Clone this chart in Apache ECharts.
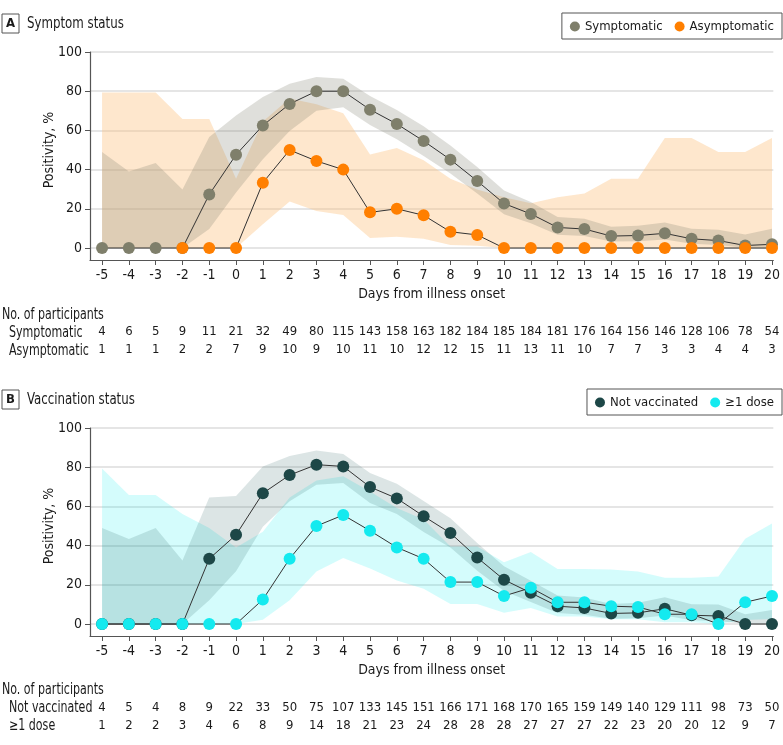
<!DOCTYPE html>
<html>
<head>
<meta charset="utf-8">
<script src="https://cdn.jsdelivr.net/npm/echarts@6/dist/echarts.min.js"></script>
<style>
  html, body { margin: 0; padding: 0; background: #fff; }
  #chart { width: 783px; height: 745px; }
</style>
</head>
<body>
<div id="chart"></div>
<script>
// days from illness onset
var days = [-5, -4, -3, -2, -1, 0, 1, 2, 3, 4, 5, 6, 7, 8, 9, 10, 11, 12, 13, 14, 15, 16, 17, 18, 19, 20];
var yTicks = [0, 20, 40, 60, 80, 100];

// A: symptom status (positivity, %)
var symptomatic     = [0, 0, 0, 0, 27.3, 47.6, 62.5, 73.5, 80, 80, 70.6, 63.3, 54.6, 45.1, 34.2, 22.7, 17.4, 10.5, 9.7, 6.1, 6.4, 7.5, 4.7, 3.8, 1.3, 1.9];
var symptomaticLow  = [0, 0, 0, 0, 9.7, 28.3, 45.3, 59.7, 70.0, 71.8, 62.7, 55.5, 46.9, 38.0, 27.8, 17.3, 12.6, 6.8, 6.1, 3.3, 3.5, 4.3, 2.2, 1.5, 0.2, 0.3];
var symptomaticHigh = [49.0, 39.0, 43.4, 29.9, 56.6, 67.6, 77.1, 83.8, 87.3, 86.3, 77.5, 70.4, 62.1, 52.3, 41.4, 29.3, 23.5, 15.8, 14.9, 10.9, 11.4, 13.0, 9.9, 9.3, 6.9, 9.8];
var asymptomatic     = [null, null, null, 0, 0, 0, 33.3, 50, 44.4, 40, 18.2, 20, 16.7, 8.3, 6.7, 0, 0, 0, 0, 0, 0, 0, 0, 0, 0, 0];
var asymptomaticLow  = [0, 0, 0, 0, 0, 0, 12.1, 23.7, 18.9, 16.8, 5.1, 5.7, 4.7, 1.5, 1.2, 0, 0, 0, 0, 0, 0, 0, 0, 0, 0, 0];
var asymptomaticHigh = [79.3, 79.3, 79.3, 65.8, 65.8, 35.4, 64.6, 76.3, 73.3, 68.7, 47.7, 51.0, 44.8, 35.4, 29.8, 25.9, 22.8, 25.9, 27.8, 35.4, 35.4, 56.1, 56.1, 49.0, 49.0, 56.1];
var symptomaticN  = [4, 6, 5, 9, 11, 21, 32, 49, 80, 115, 143, 158, 163, 182, 184, 185, 184, 181, 176, 164, 156, 146, 128, 106, 78, 54];
var asymptomaticN = [1, 1, 1, 2, 2, 7, 9, 10, 9, 10, 11, 10, 12, 12, 15, 11, 13, 11, 10, 7, 7, 3, 3, 4, 4, 3];

// B: vaccination status (positivity, %)
var notVax     = [0, 0, 0, 0, 33.3, 45.5, 66.7, 76, 81.3, 80.4, 69.9, 64.1, 55.0, 46.4, 33.9, 22.6, 15.9, 9.1, 8.2, 5.4, 5.7, 7.8, 4.5, 4.1, 0, 0];
var notVaxLow  = [0, 0, 0, 0, 12.1, 26.9, 49.6, 62.6, 71.1, 71.9, 61.7, 56.1, 47.0, 39.0, 27.2, 16.9, 11.2, 5.6, 4.8, 2.7, 2.9, 4.3, 1.9, 1.6, 0, 0];
var notVaxHigh = [49.0, 43.4, 49.0, 32.4, 64.6, 65.3, 80.3, 85.7, 88.5, 86.8, 77.1, 71.5, 62.7, 54.0, 41.3, 29.5, 22.1, 14.5, 13.5, 10.2, 10.9, 13.7, 10.1, 10.0, 5.0, 7.1];
var dose     = [0, 0, 0, 0, 0, 0, 12.5, 33.3, 50, 55.6, 47.6, 39.1, 33.3, 21.4, 21.4, 14.3, 18.5, 11.1, 11.1, 9.1, 8.7, 5, 5, 0, 11.1, 14.3];
var doseLow  = [0, 0, 0, 0, 0, 0, 2.2, 12.1, 26.8, 33.7, 28.3, 22.2, 18.0, 10.2, 10.2, 5.7, 8.2, 3.9, 3.9, 2.5, 2.4, 0.9, 0.9, 0, 2.0, 2.6];
var doseHigh = [79.3, 65.8, 65.8, 56.1, 49.0, 39.0, 47.1, 64.6, 73.2, 75.4, 67.6, 59.2, 53.3, 39.5, 39.5, 31.5, 36.7, 28.1, 28.1, 27.8, 26.8, 23.6, 23.6, 24.2, 43.5, 51.3];
var notVaxN = [4, 5, 4, 8, 9, 22, 33, 50, 75, 107, 133, 145, 151, 166, 171, 168, 170, 165, 159, 149, 140, 129, 111, 98, 73, 50];
var doseN   = [1, 2, 2, 3, 4, 6, 8, 9, 14, 18, 21, 23, 24, 28, 28, 28, 27, 27, 27, 22, 23, 20, 20, 12, 9, 7];

var FONT = "'DejaVu Sans Condensed', 'Liberation Sans', sans-serif";
var TXT = '#1a1a1a';
var NARROW = 0.82; // horizontal squeeze for free text, the original face is condensed

function pairs(vals) {
  return days.map(function (d, i) { return [d, vals[i]]; });
}

// confidence band drawn as one polygon through the axis scales
function band(name, xi, yi, low, high, fill) {
  return {
    name: name,
    type: 'custom',
    xAxisIndex: xi,
    yAxisIndex: yi,
    silent: true,
    z: 1,
    data: days.map(function (d, i) { return [d, low[i], high[i]]; }),
    encode: { x: 0, y: [1, 2] },
    renderItem: function (params, api) {
      if (params.dataIndex !== 0) return;
      var top = [], bottom = [];
      for (var i = 0; i < days.length; i++) {
        top.push(api.coord([days[i], high[i]]));
        bottom.unshift(api.coord([days[i], low[i]]));
      }
      return { type: 'polygon', shape: { points: top.concat(bottom) }, style: { fill: fill } };
    }
  };
}

function dots(name, xi, yi, vals, color, z) {
  return {
    name: name,
    type: 'line',
    xAxisIndex: xi,
    yAxisIndex: yi,
    z: z,
    data: pairs(vals),
    symbol: 'circle',
    symbolSize: 12,
    showAllSymbol: true,
    color: color,
    itemStyle: { color: color },
    lineStyle: { color: '#333', width: 1 },
    emphasis: { disabled: true }
  };
}

function mainX(gi) {
  return {
    type: 'value', gridIndex: gi, min: -5.45, max: 20.05,
    name: 'Days from illness onset', nameLocation: 'middle', nameGap: 27, nameMoveOverlap: false,
    nameTextStyle: { fontFamily: FONT, fontSize: 14, color: TXT },
    axisLine: { onZero: false, lineStyle: { color: '#555', width: 1.2 } },
    axisTick: { customValues: days, length: 5, lineStyle: { color: '#555' } },
    axisLabel: { customValues: days, fontFamily: FONT, fontSize: 14, color: TXT, margin: 8 },
    splitLine: { show: false }
  };
}

function countX(gi, offset, counts) {
  return {
    type: 'value', gridIndex: gi, min: -5.45, max: 20.05, position: 'bottom', offset: offset,
    axisLine: { show: false, onZero: false },
    axisTick: { show: false, customValues: days },
    axisLabel: {
      customValues: days, fontFamily: FONT, fontSize: 13, color: TXT, margin: 8,
      formatter: function (v) { return String(counts[days.indexOf(v)]); }
    },
    splitLine: { show: false }
  };
}

function mainY(gi) {
  return {
    type: 'value', gridIndex: gi, min: -6.1, max: 100,
    name: 'Positivity, %', nameLocation: 'middle', nameGap: 34, nameMoveOverlap: false,
    nameTextStyle: { fontFamily: FONT, fontSize: 14, color: TXT, padding: [0, 0, 0, 12] },
    axisLine: { show: true, onZero: false, lineStyle: { color: '#555', width: 1.2 } },
    axisTick: { show: true, customValues: yTicks, length: 5, lineStyle: { color: '#555' } },
    axisLabel: { customValues: yTicks, fontFamily: FONT, fontSize: 14, color: TXT, margin: 8 },
    splitLine: { show: true, lineStyle: { color: '#dcdcdc', width: 1.5 } }
  };
}

function panelTitle(letter, text, y) {
  return {
    type: 'group', x: 2, y: y,
    children: [
      { type: 'rect', shape: { x: 0, y: 0, width: 17, height: 19 }, style: { fill: '#fff', stroke: '#555', lineWidth: 1 } },
      { type: 'text', x: 8.5, y: 10, style: { text: letter, fontFamily: FONT, fontSize: 13, fontWeight: 'bold', fill: TXT, align: 'center', verticalAlign: 'middle' } },
      { type: 'text', x: 25, y: 10, scaleX: NARROW, style: { text: text, fontFamily: FONT, fontSize: 16, fill: TXT, align: 'left', verticalAlign: 'middle' } }
    ]
  };
}

function rowText(text, x, y) {
  return { type: 'text', x: x, y: y, scaleX: NARROW, style: { text: text, fontFamily: FONT, fontSize: 15, fill: TXT, align: 'left', verticalAlign: 'middle' } };
}

var chart = echarts.init(document.getElementById('chart'), null, { renderer: 'canvas' });

var legendStyle = {
  orient: 'horizontal', right: 1, icon: 'circle', itemWidth: 10, itemHeight: 10, itemGap: 12,
  borderColor: '#555', borderWidth: 1, borderRadius: 0, padding: [7, 8, 6, 8],
  textStyle: { fontFamily: FONT, fontSize: 13, color: TXT }
};

chart.setOption({
  animation: false,
  backgroundColor: '#fff',
  textStyle: { fontFamily: FONT },
  legend: [
    Object.assign({ top: 13, data: ['Symptomatic', 'Asymptomatic'] }, legendStyle),
    Object.assign({ top: 389, data: ['Not vaccinated', '≥1 dose'] }, legendStyle)
  ],
  grid: [
    { left: 90, right: 8, top: 52, height: 208 },
    { left: 90, right: 8, top: 428, height: 208 }
  ],
  xAxis: [
    mainX(0), countX(0, 57, symptomaticN), countX(0, 75, asymptomaticN),
    mainX(1), countX(1, 57, notVaxN), countX(1, 75, doseN)
  ],
  yAxis: [mainY(0), mainY(1)],
  graphic: [
    panelTitle('A', 'Symptom status', 14),
    panelTitle('B', 'Vaccination status', 390),
    rowText('No. of participants', 2, 315),
    rowText('Symptomatic', 9, 333),
    rowText('Asymptomatic', 9, 351),
    rowText('No. of participants', 2, 690),
    rowText('Not vaccinated', 9, 708),
    rowText('≥1 dose', 9, 726)
  ],
  series: [
    band('Asymptomatic CI', 0, 0, asymptomaticLow, asymptomaticHigh, 'rgba(252,196,130,0.4)'),
    band('Symptomatic CI', 0, 0, symptomaticLow, symptomaticHigh, 'rgba(128,128,110,0.25)'),
    dots('Symptomatic', 0, 0, symptomatic, '#7f7f6b', 3),
    dots('Asymptomatic', 0, 0, asymptomatic, '#ff7f00', 4),
    band('≥1 dose CI', 3, 1, doseLow, doseHigh, 'rgba(0,240,240,0.17)'),
    band('Not vaccinated CI', 3, 1, notVaxLow, notVaxHigh, 'rgba(20,80,80,0.15)'),
    dots('Not vaccinated', 3, 1, notVax, '#1d4747', 3),
    dots('≥1 dose', 3, 1, dose, '#14eaef', 4)
  ]
});
</script>
</body>
</html>
